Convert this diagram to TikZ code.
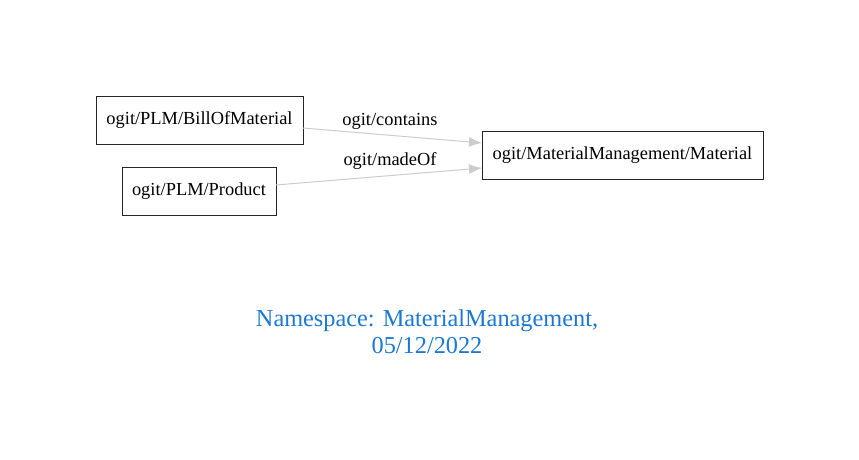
\documentclass[tikz,border=0pt]{standalone}
\usepackage{fontspec}
\setmainfont{Liberation Serif}
\usetikzlibrary{arrows.meta}
\definecolor{edgegray}{HTML}{CCCCCC}
\definecolor{nsblue}{HTML}{1C78D0}
\begin{document}
\begin{tikzpicture}[x=1pt,y=-1pt,
  entity/.style={draw=black!85, line width=1pt, minimum height=48pt, inner xsep=0pt, font=\fontsize{18.4}{20}\selectfont, anchor=center},
  rel/.style={draw=edgegray, line width=1pt, -{Latex[length=13pt,width=10pt,fill=edgegray]}},
  rellabel/.style={font=\fontsize{18.4}{20}\selectfont, inner sep=0pt}]
\useasboundingbox (0,0) rectangle (859,460);
\node[entity, minimum width=207pt] (bom) at (199.5,120) {ogit/PLM/BillOfMaterial};
\node[entity, minimum width=154pt] (prod) at (199,191.5) {ogit/PLM/Product};
\node[entity, minimum width=281pt] (mat) at (622.5,155.5) {ogit/MaterialManagement/Material};
\coordinate (bomE) at (303,128);
\coordinate (matA) at (482,143);
\coordinate (prodE) at (276,185);
\coordinate (matB) at (482,168);
\draw[rel] (bomE) -- (matA);
\draw[rel] (prodE) -- (matB);
\node[rellabel] (l1) at (390,121) {ogit/contains};
\node[rellabel] (l2) at (390,161) {ogit/madeOf};
\node[font=\fontsize{24.3}{27}\selectfont, text=nsblue, align=center] (ns) at (427,332) {Namespace: MaterialManagement,\\05/12/2022};
\end{tikzpicture}
\end{document}
